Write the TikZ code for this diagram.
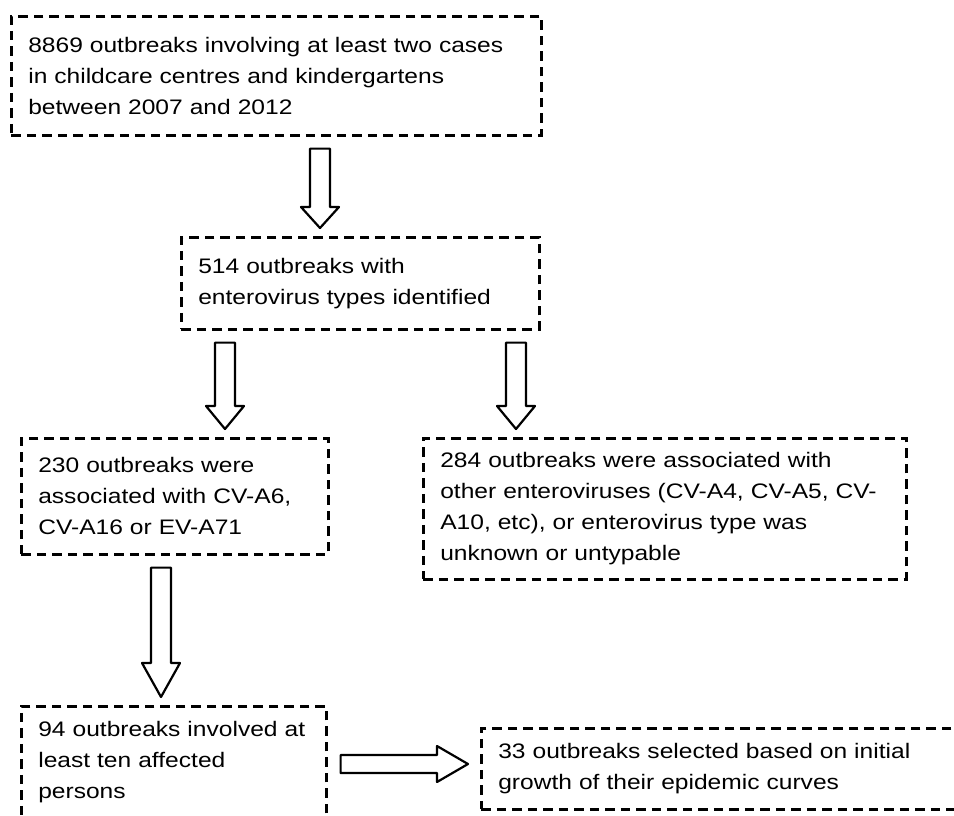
\documentclass[tikz,border=0pt]{standalone}
\usepackage{fontspec}
\setmainfont{Liberation Sans}[FakeStretch=1.17]
\usetikzlibrary{calc}
\tikzset{
stage/.style={draw,dash pattern=on 9.5pt off 6pt,line width=2.6pt,anchor=north west,align=left,inner xsep=17pt,inner ysep=0pt,font=\fontsize{21}{31}\selectfont},
hollow/.style={draw,fill=white,line width=2.2pt,line join=round}
}
\newcommand{\vblock}[4]{%
\draw[hollow] ($(#2.south -| #1,0)+(-10,12)$) -- ($(#3.north -| #1,0)+(-10,-8-#4)$) -- ++(-9,0) -- ($(#3.north -| #1,0)+(0,-8)$) -- ($(#3.north -| #1,0)+(19,-8-#4)$) -- ++(-9,0) -- ($(#2.south -| #1,0)+(10,12)$) -- cycle;}
\newcommand{\hblock}[4]{%
\draw[hollow] ($(#2.east |- 0,#1)+(13,-9)$) -- ($(#3.west |- 0,#1)+(-12-#4,-9)$) -- ++(0,-9) -- ($(#3.west |- 0,#1)+(-12,0)$) -- ($(#3.west |- 0,#1)+(-12-#4,18)$) -- ++(0,-9) -- ($(#2.east |- 0,#1)+(13,9)$) -- cycle;}

\begin{document}
\begin{tikzpicture}[x=1pt,y=-1pt]
\useasboundingbox (0,0) rectangle (954,815);
\fill[white] (0,0) rectangle (954,815);
\clip (0,0) rectangle (954,815);
\node[stage,text width=496pt,minimum height=119pt](total) at (10,15){8869 outbreaks involving at least two cases\\in childcare centres and kindergartens\\between 2007 and 2012};
\node[stage,text width=324pt,minimum height=92pt](typed) at (180,236){514 outbreaks with\\enterovirus types identified};
\node[stage,text width=273pt,minimum height=116pt](mainthree) at (20,437){230 outbreaks were\\associated with CV-A6,\\CV-A16 or EV-A71};
\node[stage,text width=449pt,minimum height=141pt](others) at (422,437){284 outbreaks were associated with\\other enteroviruses (CV-A4, CV-A5, CV-\\A10, etc), or enterovirus type was\\unknown or untypable};
\node[stage,text width=271pt,minimum height=112pt](tenplus) at (20,705){94 outbreaks involved at\\least ten affected\\persons};
\node[stage,text width=486pt,minimum height=81pt](selected) at (480,727){33 outbreaks selected based on initial\\growth of their epidemic curves};
\vblock{320}{total}{typed}{21}
\vblock{225}{typed}{mainthree}{23}
\vblock{516}{typed}{others}{23}
\vblock{161}{mainthree}{tenplus}{34}
\hblock{764}{tenplus}{selected}{31}
\end{tikzpicture}
\end{document}
